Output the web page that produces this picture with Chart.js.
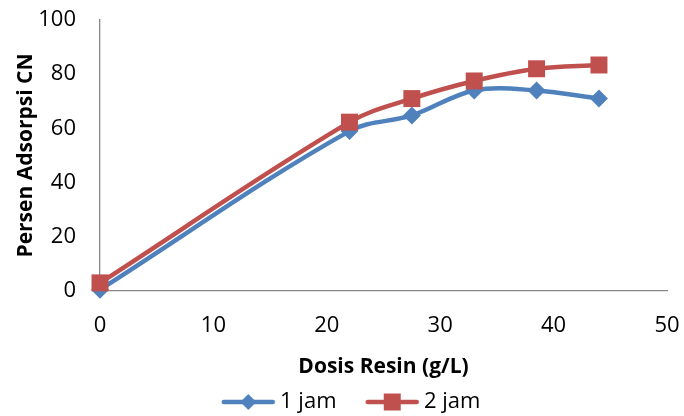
<!DOCTYPE html>
<html>
<head>
<meta charset="utf-8">
<script src="https://cdn.jsdelivr.net/npm/chart.js@4"></script>
<style>
  html, body { margin: 0; padding: 0; background: #fff; overflow: hidden; }
  #wrap { width: 684px; height: 416px; }
</style>
</head>
<body>
<div id="wrap"><canvas id="myChart" width="684" height="416"></canvas></div>
<script>
// data
const dosis = [0, 22, 27.5, 33, 38.5, 44];
const jam1 = [0.5, 59, 64.8, 74, 74, 71];
const jam2 = [3, 62.3, 71, 77.5, 82, 83.4];
const xTicks = [0, 10, 20, 30, 40, 50];
const yTicks = [0, 20, 40, 60, 80, 100];

const biru = '#4F81BD';
const merah = '#C0504D';
const fontName = '"Open Sans", "Noto Sans", sans-serif';

function toPoints(ys) {
  return dosis.map((x, i) => ({ x: x, y: ys[i] }));
}

// little legend picture: line with marker in the middle
function legendIcon(color, style) {
  const c = document.createElement('canvas');
  c.width = 94; c.height = 22;
  const g = c.getContext('2d');
  g.strokeStyle = color;
  g.lineWidth = 4.5;
  g.lineCap = 'round';
  g.beginPath();
  g.moveTo(38, 11);
  g.lineTo(87, 11);
  g.stroke();
  g.fillStyle = color;
  const cx = 62.5, cy = 11;
  if (style === 'rect') {
    g.fillRect(cx - 8.5, cy - 8.5, 17, 17);
  } else {
    g.beginPath();
    g.moveTo(cx, cy - 8);
    g.lineTo(cx + 8, cy);
    g.lineTo(cx, cy + 8);
    g.lineTo(cx - 8, cy);
    g.closePath();
    g.fill();
  }
  return c;
}

const data = {
  datasets: [{
    label: '1 jam',
    data: toPoints(jam1),
    borderColor: biru,
    backgroundColor: biru,
    borderWidth: 4.5,
    pointStyle: 'rectRot',
    pointRadius: 9,
    pointHoverRadius: 9,
    pointBorderWidth: 0,
    tension: 0.35,
    showLine: true,
    clip: false,
    order: 2
  }, {
    label: '2 jam',
    data: toPoints(jam2),
    borderColor: merah,
    backgroundColor: merah,
    borderWidth: 4.5,
    pointStyle: 'rect',
    pointRadius: 12,
    pointHoverRadius: 12,
    pointBorderWidth: 0,
    tension: 0.35,
    showLine: true,
    clip: false,
    order: 1
  }]
};

const config = {
  type: 'scatter',
  data: data,
  options: {
    responsive: false,
    animation: false,
    layout: { padding: { left: 10, right: 17, top: 20, bottom: -7 } },
    plugins: {
      tooltip: { enabled: false },
      legend: {
        position: 'bottom',
        labels: {
          usePointStyle: true,
          pointStyleWidth: 72.5,
          padding: 4,
          color: '#000',
          font: { family: fontName, size: 22 },
          generateLabels: function (chart) {
            return chart.data.datasets.map((ds, i) => ({
              text: ds.label,
              fillStyle: ds.borderColor,
              strokeStyle: ds.borderColor,
              lineWidth: 0,
              pointStyle: legendIcon(ds.borderColor, ds.pointStyle),
              datasetIndex: i,
              hidden: false,
              fontColor: '#000'
            }));
          }
        }
      }
    },
    scales: {
      x: {
        type: 'linear',
        min: 0,
        max: 50,
        afterBuildTicks: function (axis) {
          axis.ticks = xTicks.map(v => ({ value: v }));
        },
        afterFit: function (axis) {
          axis.height = 96;
          axis.paddingLeft = 0;
          axis.paddingRight = 0;
        },
        grid: { display: false, drawTicks: false },
        border: { display: true, color: '#868686', width: 1.3 },
        ticks: {
          color: '#000',
          padding: 22,
          maxRotation: 0,
          font: { family: fontName, size: 22 }
        },
        title: {
          display: true,
          text: 'Dosis Resin (g/L)',
          color: '#000',
          padding: { top: 0, bottom: 7 },
          font: { family: fontName, size: 21, weight: 'bold' }
        }
      },
      y: {
        min: 0,
        max: 100,
        afterBuildTicks: function (axis) {
          axis.ticks = yTicks.map(v => ({ value: v }));
        },
        afterFit: function (axis) {
          axis.width = 90;
          axis.paddingTop = 0;
          axis.paddingBottom = 0;
        },
        grid: { display: false, drawTicks: false },
        border: { display: true, color: '#868686', width: 1.3 },
        ticks: {
          color: '#000',
          padding: 24,
          font: { family: fontName, size: 22 }
        },
        title: {
          display: true,
          text: 'Persen Adsorpsi CN',
          color: '#000',
          padding: { top: 3, bottom: 0 },
          font: { family: fontName, size: 21, weight: 'bold' }
        }
      }
    }
  }
};

const myChart = new Chart(document.getElementById('myChart'), config);
</script>
</body>
</html>
